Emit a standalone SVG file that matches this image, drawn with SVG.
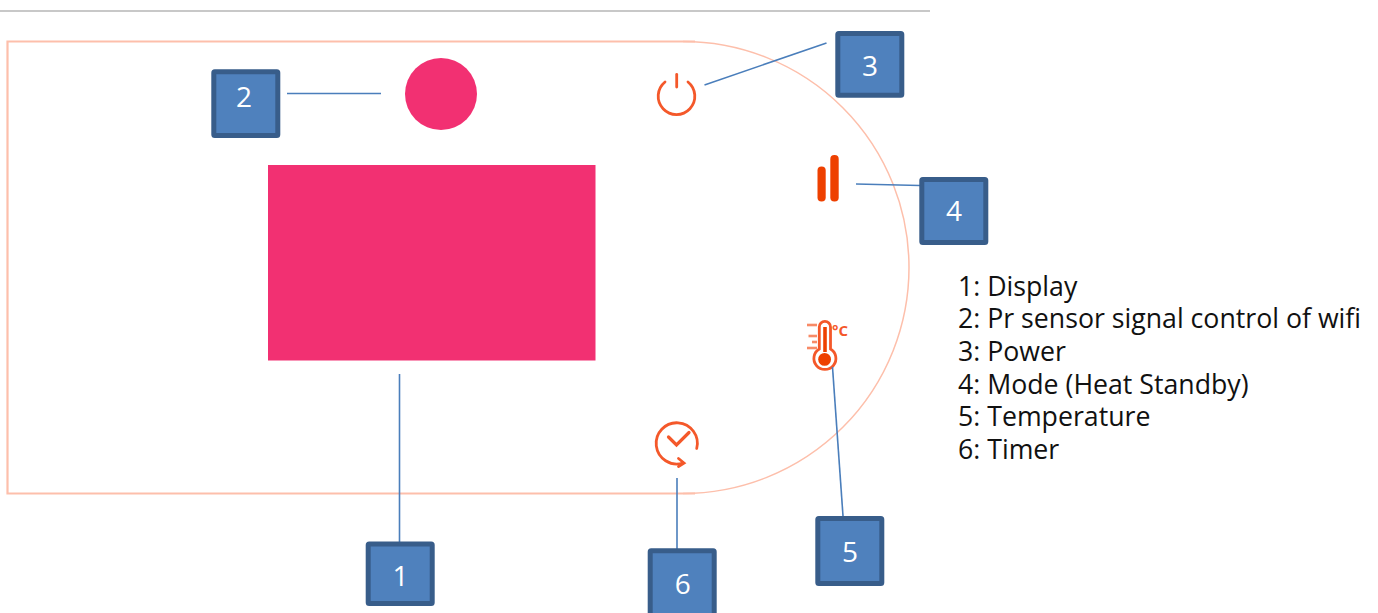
<svg xmlns="http://www.w3.org/2000/svg" width="1378" height="613" viewBox="0 0 1378 613">
<defs>
<style>
.box{fill:#4f81bd;stroke:#385d8a;stroke-width:5}
.num{font-family:"Open Sans","Liberation Sans",sans-serif;font-size:28px;fill:#fff;text-anchor:middle}
.conn{stroke:#4a7ebb;stroke-width:1.6;fill:none}
.ico{fill:none;stroke:#f4582a;stroke-width:2.8;stroke-linecap:round}
.legend{font-family:"Open Sans","Liberation Sans",sans-serif;font-size:26.7px;fill:#111}
.pink{fill:#f23072}
.edge{fill:none;stroke:#fdbfab}
</style>
</defs>
<rect width="1378" height="613" fill="#fff"/>
<line x1="0" y1="11" x2="930" y2="11" stroke="#c8c8c8" stroke-width="2"/>
<g id="panel"><path class="edge" stroke-width="2.2" d="M695 41.500H7.500V493.500H695"/><path class="edge" stroke-width="1.500" d="M683 41.500A226 226 0 0 1 683 493.500"/></g>
<g id="display"><rect class="pink" x="268" y="165" width="327.500" height="195.500"/></g>
<g id="sensor"><circle class="pink" cx="441" cy="94" r="36"/></g>
<g id="power-icon" class="ico"><path d="M665 82A18.300 18.300 0 1 0 688 82"/><line x1="676.700" y1="74.500" x2="676.700" y2="87"/></g>
<g id="mode-icon" fill="#ee4000"><rect x="817.500" y="166.500" width="8.200" height="35" rx="4"/><rect x="830.300" y="155" width="8.400" height="46.500" rx="4"/></g>
<g id="temp-icon">
<path class="ico" d="M819.300 349V327A5.600 5.600 0 0 1 830.500 327V349A11 11 0 1 1 819.300 349Z" stroke-width="2.400"/>
<line x1="825" y1="327" x2="825" y2="352" stroke="#ee4000" stroke-width="3.600"/>
<circle cx="824.600" cy="359.400" r="6.400" fill="#ee4000"/>
<g stroke="#f88a66" stroke-width="2.600"><line x1="807" y1="325" x2="817" y2="325"/><line x1="808.500" y1="336" x2="817" y2="336"/><line x1="812" y1="342" x2="817" y2="342"/><line x1="807" y1="348" x2="817" y2="348"/></g>
<text x="832" y="335.500" font-family="'Open Sans','Liberation Sans',sans-serif" font-size="15" font-weight="700" fill="#f4582a">°C</text>
</g>
<g id="timer-icon" class="ico">
<path d="M696.700 448.500A20.600 20.600 0 1 0 683 463"/><path d="M678.500 458.500L684 463L678.500 466.500"/>
<path d="M668.500 437L676.500 445L689 432.500" stroke-width="3.200"/>
</g>
<g id="connectors">
<line class="conn" x1="399.500" y1="374" x2="399.500" y2="542"/>
<line class="conn" x1="287" y1="93.500" x2="381" y2="93.500"/>
<line class="conn" x1="704.500" y1="85" x2="826.500" y2="43"/>
<line class="conn" x1="856" y1="184" x2="920" y2="185.500"/>
<line class="conn" x1="832.500" y1="367" x2="843" y2="516"/>
<line class="conn" x1="677" y1="478" x2="677" y2="549"/>
</g>
<g id="node-1"><rect class="box" x="368.200" y="544" width="64" height="59.500" rx="1"/><text class="num" x="400.500" y="586">1</text></g>
<g id="node-2"><rect class="box" x="213.800" y="71.800" width="64" height="63.700" rx="1"/><text class="num" x="244" y="107.300">2</text></g>
<g id="node-3"><rect class="box" x="837.800" y="33.500" width="64" height="61.700" rx="1"/><text class="num" x="870" y="76">3</text></g>
<g id="node-4"><rect class="box" x="921.800" y="179.500" width="64" height="63" rx="1"/><text class="num" x="954" y="221">4</text></g>
<g id="node-5"><rect class="box" x="817.800" y="518.500" width="64" height="65" rx="1"/><text class="num" x="850" y="562">5</text></g>
<g id="node-6"><rect class="box" x="650.200" y="550.800" width="64" height="70" rx="1"/><text class="num" x="682.700" y="594">6</text></g>
<g id="legend" class="legend">
<text x="958" y="296">1: Display</text>
<text x="958" y="328">2: Pr sensor signal control of wifi</text>
<text x="958" y="361">3: Power</text>
<text x="958" y="393.500">4: Mode (Heat Standby)</text>
<text x="958" y="426">5: Temperature</text>
<text x="958" y="459">6: Timer</text>
</g>
</svg>
